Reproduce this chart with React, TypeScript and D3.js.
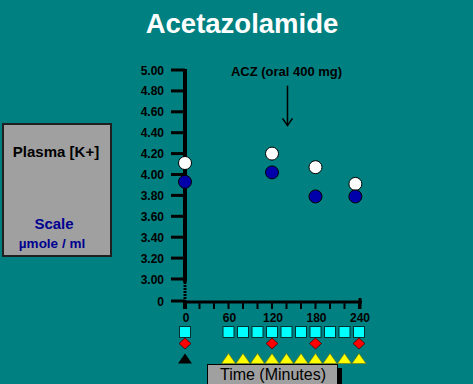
import React from "react";
import * as d3 from "d3";

const yTickLabels = ["5.00", "4.80", "4.60", "4.40", "4.20", "4.00", "3.80", "3.60", "3.40", "3.20", "3.00"];
const xTickLabels = ["0", "60", "120", "180", "240"];
const xTickValues = [0, 60, 120, 180, 240];
const minorTickTimes = [0, 20, 40, 60, 80, 100, 120, 140, 160, 180, 200, 220, 240];

const sampleTimes = [0, 120, 180, 235];
const seriesWhite = [4.11, 4.2, 4.07, 3.91];
const seriesBlue = [3.93, 4.02, 3.79, 3.79];

const squareTimes = [0, 60, 80, 100, 120, 140, 160, 180, 200, 220, 240];
const diamondTimes = [0, 120, 180, 240];
const blackTriangleTimes = [0];
const yellowTriangleTimes = [60, 80, 100, 120, 140, 160, 180, 200, 220, 240];

const annotationTime = 140;
const annotationText = "ACZ (oral 400 mg)";

const FONT = "'Liberation Sans', Arial, Helvetica, sans-serif";

export default function App() {
  const W = 473, H = 384;
  const x = d3.scaleLinear().domain([0, 240]).range([185, 359]);
  const y = d3.scaleLinear().domain([3, 5]).range([279, 70]);
  const yZero = 301;
  const axisX = x(0);

  const tri = (cx: number, cy: number, w: number, h: number) =>
    `M${cx - w / 2},${cy + h / 2}L${cx},${cy - h / 2}L${cx + w / 2},${cy + h / 2}Z`;
  const dia = (cx: number, cy: number, rx: number, ry: number) =>
    `M${cx},${cy - ry}L${cx + rx},${cy}L${cx},${cy + ry}L${cx - rx},${cy}Z`;

  const ax = x(annotationTime);

  return (
    <svg width={W} height={H} style={{ position: "absolute", left: 0, top: 0 }} fontFamily={FONT}>
      <rect x={0} y={0} width={W} height={H} fill="#008080" />
      <text x={242} y={33} textAnchor="middle" fill="#ffffff" fontSize={27.5} fontWeight="bold">
        Acetazolamide
      </text>

      {/* left label box */}
      <rect x={3} y={124} width={108} height={132} fill="#a0a0a0" stroke="#202020" strokeWidth={2} />
      <text x={56} y={157} textAnchor="middle" fontSize={15} fontWeight="bold" fill="#000000">Plasma [K+]</text>
      <text x={54} y={229} textAnchor="middle" fontSize={15} fontWeight="bold" fill="#000090">Scale</text>
      <text x={52} y={248} textAnchor="middle" fontSize={13.5} fontWeight="bold" fill="#000090">µmole / ml</text>

      {/* y axis */}
      <line x1={axisX} x2={axisX} y1={y(5) - 1} y2={y(3) + 3} stroke="#000" strokeWidth={4} />
      <line x1={axisX} x2={axisX} y1={y(3) + 3} y2={yZero} stroke="#000" strokeWidth={3} strokeDasharray="2,1" />
      {yTickLabels.map((lab) => {
        const v = +lab;
        return (
          <g key={lab}>
            <line x1={171} x2={axisX} y1={y(v)} y2={y(v)} stroke="#000" strokeWidth={3} />
            <text x={164} y={y(v) + 4.5} textAnchor="end" fontSize={12} fontWeight="bold" fill="#000">{lab}</text>
          </g>
        );
      })}
      <line x1={171} x2={axisX} y1={yZero} y2={yZero} stroke="#000" strokeWidth={3} />
      <text x={164} y={yZero + 4.5} textAnchor="end" fontSize={12} fontWeight="bold" fill="#000">0</text>

      {/* x axis */}
      <line x1={axisX - 2} x2={x(240) + 3} y1={yZero + 1} y2={yZero + 1} stroke="#000" strokeWidth={3} />
      {minorTickTimes.map((t) => (
        <line key={t} x1={x(t)} x2={x(t)} y1={yZero + 1} y2={yZero + 8} stroke="#000" strokeWidth={t === 0 ? 4 : 2} />
      ))}
      <line x1={x(240) + 1} x2={x(240) + 1} y1={yZero - 3} y2={yZero + 8} stroke="#000" strokeWidth={3} />
      {xTickLabels.map((lab, i) => (
        <text key={lab} x={x(xTickValues[i]) + 1} y={322} textAnchor="middle" fontSize={12} fontWeight="bold" fill="#000">{lab}</text>
      ))}

      {/* annotation */}
      <text x={ax} y={y(4.94)} textAnchor="middle" fontSize={13} fontWeight="bold" fill="#000">{annotationText}</text>
      <line x1={ax + 1} x2={ax + 1} y1={y(4.85)} y2={y(4.47)} stroke="#000" strokeWidth={1.5} />
      <path d={`M${ax - 4},${y(4.47) - 7}L${ax + 1},${y(4.47)}L${ax + 6},${y(4.47) - 7}`} fill="none" stroke="#000" strokeWidth={1.5} />

      {/* data points */}
      {sampleTimes.map((t, i) => (
        <circle key={"w" + t} cx={x(t)} cy={y(seriesWhite[i])} r={6.5} fill="#ffffff" stroke="#000" strokeWidth={1} />
      ))}
      {sampleTimes.map((t, i) => (
        <circle key={"b" + t} cx={x(t)} cy={y(seriesBlue[i])} r={6.5} fill="#0000aa" stroke="#000" strokeWidth={1} />
      ))}

      {/* sampling markers */}
      {squareTimes.map((t) => (
        <rect key={"s" + t} x={x(t) - 5.5} y={326.5} width={11} height={11} fill="#00ffff" stroke="#003030" strokeWidth={1} />
      ))}
      {diamondTimes.map((t) => (
        <path key={"d" + t} d={dia(x(t), 343.5, 6, 5.5)} fill="#ff0000" stroke="#400000" strokeWidth={0.8} />
      ))}
      {blackTriangleTimes.map((t) => (
        <path key={"k" + t} d={tri(x(t), 358.5, 14, 10)} fill="#000000" />
      ))}
      {yellowTriangleTimes.map((t) => (
        <path key={"y" + t} d={tri(x(t), 358.5, 14, 10)} fill="#ffff00" stroke="#707000" strokeWidth={0.6} />
      ))}

      {/* x axis title box */}
      <rect x={211} y={368} width={131} height={20} fill="#000000" />
      <rect x={207.5} y={364.5} width={130} height={22} fill="#a0a0a0" stroke="#000" strokeWidth={1} />
      <text x={273} y={380} textAnchor="middle" fontSize={16} fill="#000">Time (Minutes)</text>
    </svg>
  );
}
